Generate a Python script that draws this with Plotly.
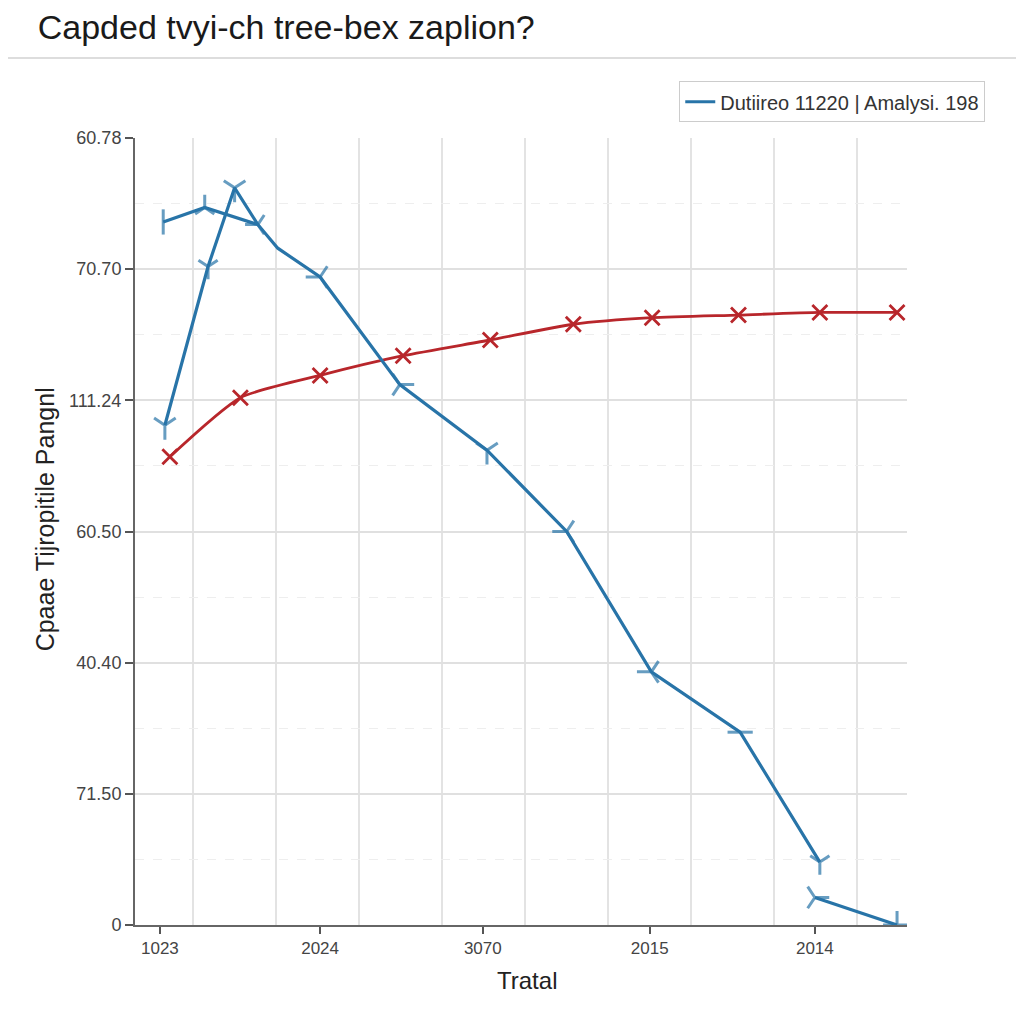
import plotly.graph_objects as go

# ---- data (axis units: x index scale, y grid-step scale) ----
x_tick_vals = [0.3, 2.23, 4.19, 6.2, 8.19]
x_tick_text = ["1023", "2024", "3070", "2015", "2014"]
y_tick_vals = [0, 1, 2, 3, 4, 5, 6]
y_tick_text = ["0", "71.50", "40.40", "60.50", "111.24", "70.70", "60.78"]

blue_x = [0.34, 0.84, 1.48, 1.72, 2.23, 3.19, 4.24, 5.20, 6.22, 7.29, 8.25, None, 8.19, 9.18, None, 0.36, 0.88, 1.20, 1.48]
blue_y = [5.36, 5.47, 5.34, 5.16, 4.94, 4.12, 3.62, 3.00, 1.93, 1.47, 0.48, None, 0.21, 0.00, None, 3.81, 5.02, 5.62, 5.34]
blue_symbols = ["line-ns", "y-up", "y-left", "circle", "y-left", "y-right", "y-down", "y-left", "y-left",
                "line-ew", "y-down", "circle", "y-right", "cross-thin", "circle", "y-down", "y-down", "y-down", "y-left"]
blue_sizes = [18, 16, 16, 0, 18, 18, 18, 18, 18, 18, 16, 0, 18, 20, 0, 18, 16, 18, 0]

red_x = [0.42, 1.27, 2.23, 3.23, 4.28, 5.28, 6.23, 7.27, 8.25, 9.18]
red_y = [3.57, 4.02, 4.19, 4.34, 4.46, 4.58, 4.63, 4.65, 4.67, 4.67]

legend_label = "Dutiireo 11220 | Amalysi. 198"
title_text = "Capded tvyi-ch tree-bex zaplion?"
x_title = "Tratal"
y_title = "Cpaae Tijropitile Pangnl"

BLUE = "#2874a8"
RED = "#b8262b"
FONT = "Liberation Sans, Arial, sans-serif"

fig = go.Figure()

fig.add_trace(go.Scatter(
    x=red_x, y=red_y, mode="lines+markers", showlegend=False,
    line=dict(color=RED, width=2.8, shape="spline", smoothing=0.6),
    marker=dict(symbol="x-thin", size=15, line=dict(color=RED, width=2.8), color=RED),
))

fig.add_trace(go.Scatter(
    x=blue_x, y=blue_y, mode="lines+markers", showlegend=False,
    line=dict(color=BLUE, width=3.2),
    marker=dict(symbol=blue_symbols, size=blue_sizes, color=BLUE,
                line=dict(color=BLUE, width=3)),
))

# legend-only entry
fig.add_trace(go.Scatter(
    x=[None], y=[None], mode="lines", name=legend_label,
    line=dict(color=BLUE, width=3),
))

fig.update_layout(
    width=1024, height=1024,
    paper_bgcolor="white", plot_bgcolor="white",
    margin=dict(l=127, r=125, t=130, b=107, autoexpand=False),
    font=dict(family=FONT, color="#333"),
    title=dict(text=title_text, x=0.029, xanchor="left", y=0.981, yanchor="middle",
               font=dict(size=34, color="#1a1a1a", family=FONT)),
    legend=dict(x=0.705, y=1.072, xanchor="left", yanchor="top",
                bordercolor="#cccccc", borderwidth=1, bgcolor="white",
                font=dict(size=20, color="#333", family=FONT)),
    showlegend=True,
)

fig.update_xaxes(
    range=[0, 9.3], showgrid=False, zeroline=False,
    tickmode="array", tickvals=x_tick_vals, ticktext=x_tick_text,
    ticks="outside", ticklen=7, tickcolor="#555", tickwidth=1.5,
    tickfont=dict(size=17, color="#444"),
    showline=True, linecolor="#666", linewidth=2,
    minor=dict(tickmode="linear", tick0=0.7, dtick=1, showgrid=True,
               gridcolor="#e3e3e3", gridwidth=1.5, ticklen=0),
)

fig.update_yaxes(
    range=[0, 6], zeroline=False,
    tickmode="array", tickvals=y_tick_vals, ticktext=y_tick_text,
    ticks="outside", ticklen=8, tickcolor="#555", tickwidth=1.5,
    tickfont=dict(size=18, color="#444"),
    showgrid=True, gridcolor="#e0e0e0", gridwidth=1.5,
    showline=True, linecolor="#666", linewidth=2,
    minor=dict(tickmode="linear", tick0=0.5, dtick=1, showgrid=True,
               gridcolor="#eeeeee", gridwidth=1, griddash="dash", ticklen=0),
)

fig.add_annotation(text=y_title, xref="paper", yref="paper", x=-0.117, y=0.515,
                   xanchor="center", yanchor="middle",
                   textangle=-90, showarrow=False,
                   font=dict(size=25, color="#222", family=FONT))
fig.add_annotation(text=x_title, xref="paper", yref="paper", x=0.508, y=-0.07,
                   xanchor="center", yanchor="middle",
                   showarrow=False, font=dict(size=24, color="#222", family=FONT))

# header separator line
fig.add_shape(type="line", xref="paper", yref="paper",
              x0=-0.175, x1=1.152, y0=1.1017, y1=1.1017,
              line=dict(color="#dddddd", width=2))

fig.write_html("out.html")
